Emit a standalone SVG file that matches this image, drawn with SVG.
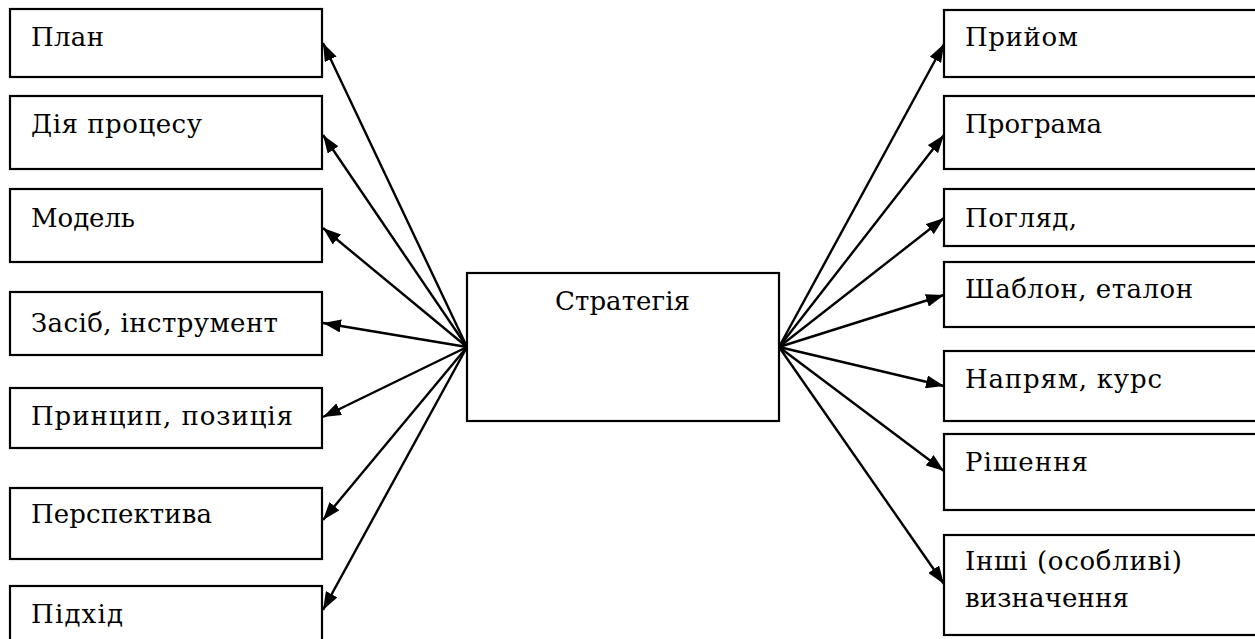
<svg xmlns="http://www.w3.org/2000/svg" width="1255" height="639" viewBox="0 0 1255 639">
<defs>
<style>
.box{fill:#fff;stroke:#000;stroke-width:2.2}
.t{font-family:"DejaVu Serif","Liberation Serif",serif;font-size:26px;fill:#000}
.c{stroke:#000;stroke-width:2.4;fill:none;marker-end:url(#ah)}
</style>
<marker id="ah" markerUnits="userSpaceOnUse" markerWidth="18" markerHeight="13" refX="18" refY="6.5" orient="auto" viewBox="0 0 18 13">
<path d="M0,0 L18,6.5 L0,13 z" fill="#000"/>
</marker>
</defs>
<rect width="1255" height="639" fill="#fff"/>
<g id="connectors">
<line class="c" x1="467" y1="347" x2="323" y2="43"/>
<line class="c" x1="467" y1="347" x2="323" y2="135"/>
<line class="c" x1="467" y1="347" x2="323" y2="228"/>
<line class="c" x1="467" y1="347" x2="323" y2="323"/>
<line class="c" x1="467" y1="347" x2="323" y2="417"/>
<line class="c" x1="467" y1="347" x2="323" y2="520"/>
<line class="c" x1="467" y1="347" x2="323" y2="610"/>
<line class="c" x1="779" y1="347" x2="944" y2="44"/>
<line class="c" x1="779" y1="347" x2="944" y2="135"/>
<line class="c" x1="779" y1="347" x2="944" y2="218"/>
<line class="c" x1="779" y1="347" x2="944" y2="295"/>
<line class="c" x1="779" y1="347" x2="944" y2="386"/>
<line class="c" x1="779" y1="347" x2="944" y2="471"/>
<line class="c" x1="779" y1="347" x2="944" y2="584"/>
</g>
<g id="center"><rect class="box" x="467" y="273" width="312" height="148"/><text class="t" x="555" y="310" textLength="135" lengthAdjust="spacing">Стратегія</text></g>
<g id="l1"><rect class="box" x="10" y="9" width="312" height="68"/><text class="t" x="31" y="46" textLength="73" lengthAdjust="spacing">План</text></g>
<g id="l2"><rect class="box" x="10" y="96" width="312" height="73"/><text class="t" x="31" y="133" textLength="171" lengthAdjust="spacing">Дія процесу</text></g>
<g id="l3"><rect class="box" x="10" y="189" width="312" height="73"/><text class="t" x="31" y="227" textLength="104" lengthAdjust="spacing">Модель</text></g>
<g id="l4"><rect class="box" x="10" y="292" width="312" height="63"/><text class="t" x="31" y="332" textLength="247" lengthAdjust="spacing">Засіб, інструмент</text></g>
<g id="l5"><rect class="box" x="10" y="388" width="312" height="60"/><text class="t" x="31" y="425" textLength="262" lengthAdjust="spacing">Принцип, позиція</text></g>
<g id="l6"><rect class="box" x="10" y="488" width="312" height="71"/><text class="t" x="31" y="523" textLength="181" lengthAdjust="spacing">Перспектива</text></g>
<g id="l7"><rect class="box" x="10" y="586" width="312" height="60"/><text class="t" x="31" y="623" textLength="92" lengthAdjust="spacing">Підхід</text></g>
<g id="r1"><rect class="box" x="944" y="10" width="320" height="67"/><text class="t" x="965" y="46" textLength="113" lengthAdjust="spacing">Прийом</text></g>
<g id="r2"><rect class="box" x="944" y="96" width="320" height="73"/><text class="t" x="965" y="133" textLength="137" lengthAdjust="spacing">Програма</text></g>
<g id="r3"><rect class="box" x="944" y="189" width="320" height="57"/><text class="t" x="965" y="227" textLength="112" lengthAdjust="spacing">Погляд,</text></g>
<g id="r4"><rect class="box" x="944" y="262" width="320" height="65"/><text class="t" x="965" y="298" textLength="228" lengthAdjust="spacing">Шаблон, еталон</text></g>
<g id="r5"><rect class="box" x="944" y="351" width="320" height="70"/><text class="t" x="965" y="388" textLength="197" lengthAdjust="spacing">Напрям, курс</text></g>
<g id="r6"><rect class="box" x="944" y="434" width="320" height="76"/><text class="t" x="965" y="471" textLength="123" lengthAdjust="spacing">Рішення</text></g>
<g id="r7"><rect class="box" x="944" y="535" width="320" height="100"/><text class="t" x="965" y="570" textLength="217" lengthAdjust="spacing">Інші (особливі)</text><text class="t" x="965" y="607" textLength="164" lengthAdjust="spacing">визначення</text></g>
</svg>
